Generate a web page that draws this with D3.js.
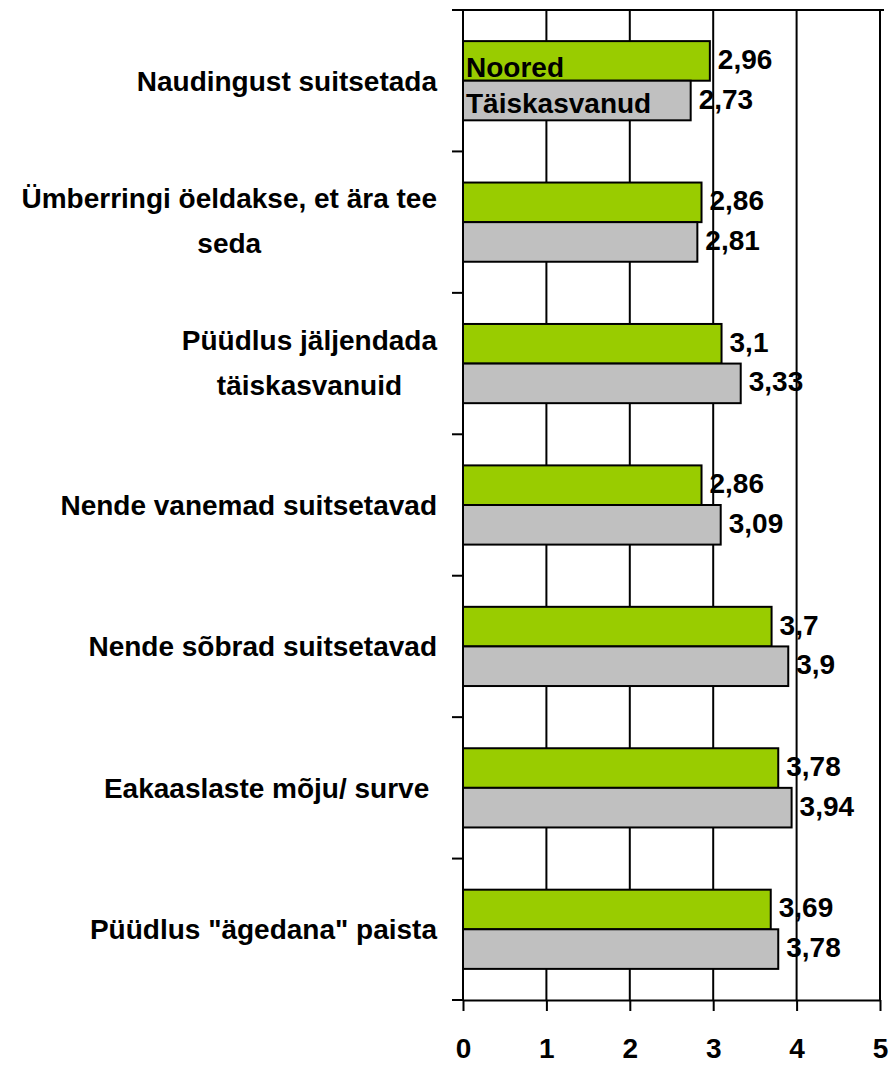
<!DOCTYPE html>
<html>
<head>
<meta charset="utf-8">
<script src="https://cdn.jsdelivr.net/npm/d3@7"></script>
<style>
  body { margin: 0; background: #fff; }
  text { font-family: "Liberation Sans", Arial, sans-serif; font-weight: bold; fill: #000; }
</style>
</head>
<body>
<svg id="chart" width="893" height="1065"></svg>
<script>
const categories = [
    ['Naudingust suitsetada'],
    ['Ümberringi öeldakse, et ära tee', 'seda'],
    ['Püüdlus jäljendada', 'täiskasvanuid'],
    ['Nende vanemad suitsetavad'],
    ['Nende sõbrad suitsetavad'],
    ['Eakaaslaste mõju/ surve '],
    ['Püüdlus "ägedana" paista']
];
const seriesNames = ['Noored', 'Täiskasvanud'];
const noored = [2.96, 2.86, 3.1, 2.86, 3.7, 3.78, 3.69];
const taiskasvanud = [2.73, 2.81, 3.33, 3.09, 3.9, 3.94, 3.78];
const xTicks = [0, 1, 2, 3, 4, 5];

const colors = ['#99cc00', '#c0c0c0'];
const FONT = 28;

const svg = d3.select('#chart');
const plotLeft = 463, plotRight = 880, plotTop = 10, plotBottom = 1000;

const x = d3.scaleLinear().domain([0, 5]).range([plotLeft, plotRight]);
const y = d3.scaleBand().domain(d3.range(categories.length)).range([plotTop, plotBottom]);
const bw = y.bandwidth();
const ySub = d3.scaleBand().domain([0, 1]).range([bw * 0.22, bw * 0.78]);

const rows = categories.map((c, i) => ({ i, values: [noored[i], taiskasvanud[i]] }));

// vertical gridlines
svg.append('g')
    .selectAll('line')
    .data(xTicks.slice(1))
    .join('line')
    .attr('x1', d => x(d)).attr('x2', d => x(d))
    .attr('y1', plotTop).attr('y2', plotBottom)
    .attr('stroke', '#000').attr('stroke-width', 2);

// top border
svg.append('line')
    .attr('x1', plotLeft - 11).attr('x2', plotRight + 4)
    .attr('y1', plotTop).attr('y2', plotTop)
    .attr('stroke', '#000').attr('stroke-width', 2);

// bars
const groups = svg.append('g')
    .selectAll('g')
    .data(rows)
    .join('g')
    .attr('transform', d => `translate(0,${y(d.i)})`);

groups.selectAll('rect')
    .data(d => d.values.map((v, s) => ({ v, s })))
    .join('rect')
    .attr('x', x(0))
    .attr('y', d => ySub(d.s))
    .attr('width', d => x(d.v) - x(0))
    .attr('height', ySub.bandwidth())
    .attr('fill', d => colors[d.s])
    .attr('stroke', '#000')
    .attr('stroke-width', 2);

// value labels
groups.selectAll('text.val')
    .data(d => d.values.map((v, s) => ({ v, s })))
    .join('text')
    .attr('class', 'val')
    .attr('x', d => x(d.v) + 8)
    .attr('y', d => ySub(d.s) + ySub.bandwidth() / 2 + 8)
    .attr('font-size', FONT)
    .text(d => String(d.v).replace('.', ','));

// y axis line and ticks
svg.append('line')
    .attr('x1', plotLeft).attr('x2', plotLeft)
    .attr('y1', plotTop).attr('y2', plotBottom)
    .attr('stroke', '#000').attr('stroke-width', 2);

svg.append('g')
    .selectAll('line')
    .data(d3.range(categories.length + 1))
    .join('line')
    .attr('x1', plotLeft - 11).attr('x2', plotLeft)
    .attr('y1', d => plotTop + d * bw).attr('y2', d => plotTop + d * bw)
    .attr('stroke', '#000').attr('stroke-width', 2);

// x axis
const xAxis = svg.append('g')
    .attr('transform', `translate(0,${plotBottom})`)
    .call(d3.axisBottom(x).tickValues(xTicks).tickFormat(d3.format('d'))
        .tickSize(11).tickPadding(27).tickSizeOuter(0));
xAxis.select('.domain').attr('stroke', '#000').attr('stroke-width', 2);
xAxis.selectAll('.tick line').attr('stroke', '#000').attr('stroke-width', 2);
xAxis.selectAll('.tick text')
    .attr('font-size', FONT)
    .attr('font-family', '"Liberation Sans", Arial, sans-serif')
    .attr('font-weight', 'bold')
    .attr('fill', '#000');

// category labels (keep trailing spaces like the original)
const labelRight = 437;
categories.forEach((lines, i) => {
    const cy = y(i) + bw / 2;
    const g = svg.append('g');
    const texts = lines.map((t, k) => g.append('text')
        .attr('font-size', FONT)
        .attr('text-anchor', 'middle')
        .style('white-space', 'pre')
        .attr('y', lines.length === 1 ? cy + 10 : cy - 14 + k * 45)
        .text(t));
    const maxW = d3.max(texts, t => t.node().getComputedTextLength());
    texts.forEach(t => t.attr('x', labelRight - maxW / 2));
});

// legend inside plot
seriesNames.forEach((name, s) => {
    svg.append('text')
        .attr('x', plotLeft + 3)
        .attr('y', plotTop + 67 + s * 36)
        .attr('font-size', FONT)
        .text(name);
});
</script>
</body>
</html>
